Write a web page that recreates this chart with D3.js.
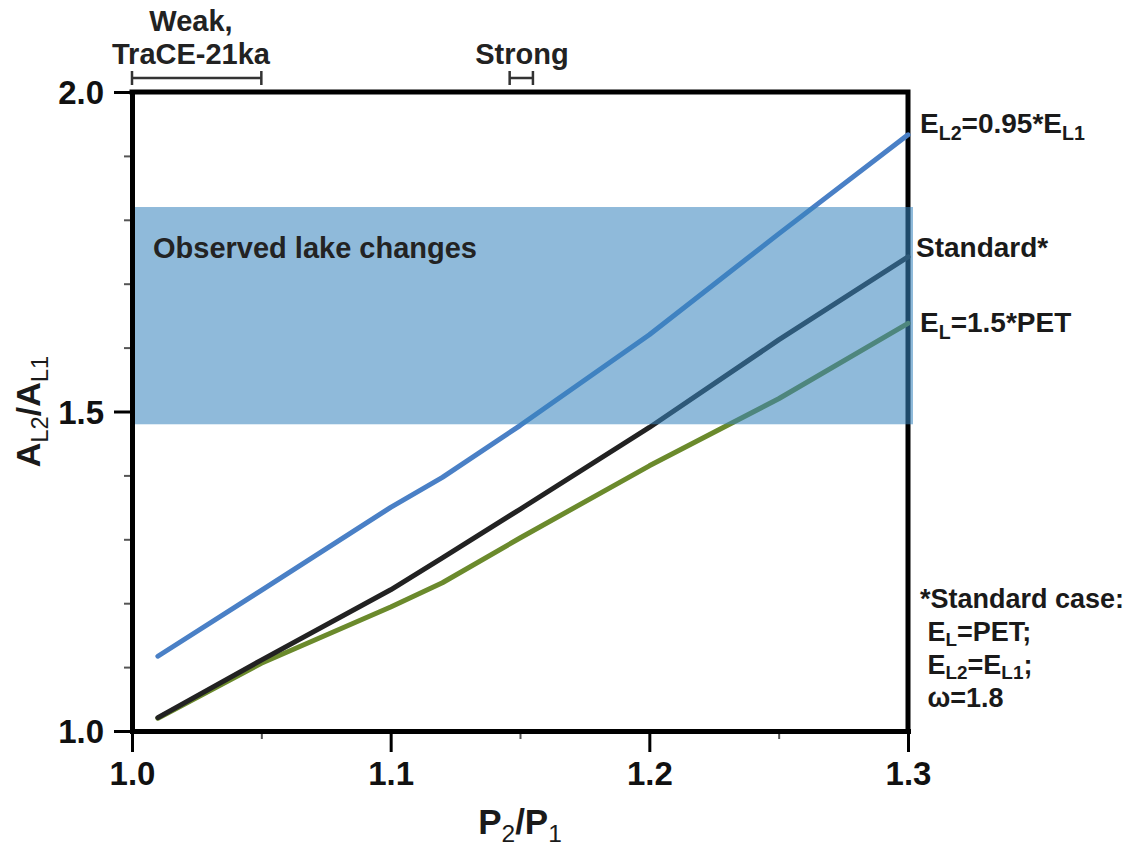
<!DOCTYPE html>
<html>
<head>
<meta charset="utf-8">
<script src="https://cdnjs.cloudflare.com/ajax/libs/d3/7.8.5/d3.min.js"></script>
<style>
  body { margin: 0; background: #fff; }
  text { font-family: "Liberation Sans", Arial, Helvetica, sans-serif; font-weight: bold; fill: #1a1a1a; }
</style>
</head>
<body>
<script>
// values
const p2p1 = [1.01, 1.05, 1.10, 1.12, 1.15, 1.20, 1.25, 1.30];
const lowEvap = [1.117, 1.22, 1.35, 1.397, 1.478, 1.62, 1.778, 1.933];   // EL2 = 0.95*EL1
const standard = [1.021, 1.111, 1.221, 1.271, 1.347, 1.475, 1.612, 1.742];
const highEvap = [1.02, 1.106, 1.194, 1.232, 1.302, 1.415, 1.52, 1.638]; // EL = 1.5*PET
const observedBand = [1.48, 1.82];
const weakRange = [1.0, 1.05];
const strongRange = [1.146, 1.155];
const xMajor = [1.0, 1.1, 1.2, 1.3];
const xMinor = [1.05, 1.15, 1.25];
const yMajor = [1.0, 1.5, 2.0];
const yMinor = [1.1, 1.2, 1.3, 1.4, 1.6, 1.7, 1.8, 1.9];

const W = 1143, H = 848;
const m = { left: 132, top: 92, right: 235, bottom: 117 };
const w = W - m.left - m.right, h = H - m.top - m.bottom;

const svg = d3.select("body").append("svg")
    .attr("width", W)
    .attr("height", H);
const g = svg.append("g").attr("transform", `translate(${m.left},${m.top})`);

const x = d3.scaleLinear().domain([1.0, 1.3]).range([0, w]);
const y = d3.scaleLinear().domain([1.0, 2.0]).range([h, 0]);

// top + right frame (sits under the band)
g.append("path")
    .attr("d", `M0,0H${w}V${h}`)
    .attr("fill", "none")
    .attr("stroke", "#000")
    .attr("stroke-width", 5)
    .attr("stroke-linecap", "square");

// curves
const series = [
    { vals: lowEvap, color: "#4a80c6" },
    { vals: highEvap, color: "#6b8a2c" },
    { vals: standard, color: "#222222" }
];
const line = d3.line()
    .x(function(d) { return x(d[0]); })
    .y(function(d) { return y(d[1]); });
g.selectAll(".curve")
    .data(series)
    .enter()
    .append("path")
        .attr("class", "curve")
        .attr("d", function(s) { return line(d3.zip(p2p1, s.vals)); })
        .attr("fill", "none")
        .attr("stroke", function(s) { return s.color; })
        .attr("stroke-width", 5)
        .attr("stroke-linecap", "round")
        .attr("stroke-linejoin", "round");

// observed band, translucent over the lines
g.append("rect")
    .attr("x", x(1.0))
    .attr("width", x(1.3) - x(1.0) + 5)
    .attr("y", y(observedBand[1]))
    .attr("height", y(observedBand[0]) - y(observedBand[1]))
    .attr("fill", "rgb(55,132,189)")
    .attr("fill-opacity", 0.56);

g.append("text")
    .attr("x", 21)
    .attr("y", 166)
    .attr("font-size", 29)
    .style("fill", "#232323")
    .text("Observed lake changes");

// axes
const xAx = g.append("g").attr("transform", `translate(0,${h})`)
    .call(d3.axisBottom(x).tickValues(xMinor).tickSize(8).tickSizeOuter(0));
xAx.select(".domain").remove();
xAx.selectAll(".tick line").attr("stroke", "#555").attr("stroke-width", 2);
xAx.selectAll("text").remove();

const xAxM = g.append("g").attr("transform", `translate(0,${h})`)
    .call(d3.axisBottom(x).tickValues(xMajor).tickSize(21).tickSizeOuter(0)
        .tickFormat(d3.format(".1f")).tickPadding(10));
xAxM.select(".domain").attr("stroke-width", 5).attr("stroke-linecap", "square");
xAxM.selectAll(".tick line").attr("stroke-width", 3);
xAxM.selectAll("text").attr("font-size", 33).attr("font-family", null).style("fill", "#111");

const yAx = g.append("g")
    .call(d3.axisLeft(y).tickValues(yMinor).tickSize(8).tickSizeOuter(0));
yAx.select(".domain").remove();
yAx.selectAll(".tick line").attr("stroke", "#555").attr("stroke-width", 2);
yAx.selectAll("text").remove();

const yAxM = g.append("g")
    .call(d3.axisLeft(y).tickValues(yMajor).tickSize(18).tickSizeOuter(0)
        .tickFormat(d3.format(".1f")).tickPadding(10));
yAxM.select(".domain").attr("stroke-width", 5).attr("stroke-linecap", "square");
yAxM.selectAll(".tick line").attr("stroke-width", 3);
yAxM.selectAll("text").attr("font-size", 33).attr("font-family", null).attr("dy", "0.36em").style("fill", "#111");

// text with subscripts: parts = [[str, isSub, thin], ...]
function richText(sel, parts, size, drop) {
    drop = drop || 0.24;
    let down = false;
    parts.forEach(function(p) {
        const t = sel.append("tspan").text(p[0]);
        if (p[1] && !down) { t.attr("font-size", size * 0.7).attr("dy", size * drop); down = true; }
        else if (!p[1] && down) { t.attr("font-size", size).attr("dy", -size * drop); down = false; }
        else t.attr("font-size", p[1] ? size * 0.7 : size);
        if (p[2]) t.style("font-weight", "normal");
    });
}

// axis titles
const xt = svg.append("text")
    .attr("x", x(1.15) + m.left)
    .attr("y", 834)
    .attr("text-anchor", "middle");
richText(xt, [["P"], ["2", true, 1], ["/P"], ["1", true, 1]], 35);

const yt = svg.append("text")
    .attr("transform", `translate(40,${y(1.5) + m.top}) rotate(-90)`)
    .attr("text-anchor", "middle");
richText(yt, [["A"], ["L2", true, 1], ["/A"], ["L1", true, 1]], 34);

// curve labels on the right
const lx = m.left + w + 12;
const labels = [
    { yy: 133, parts: [["E"], ["L2", true], ["=0.95*E"], ["L1", true]] },
    { yy: 257, parts: [["Standard*"]], dx: -4 },
    { yy: 332, parts: [["E"], ["L", true], ["=1.5*PET"]] }
];
labels.forEach(function(l) {
    const t = svg.append("text").attr("x", lx + (l.dx || 0)).attr("y", l.yy);
    richText(t, l.parts, 28);
});

const notes = [
    [["*Standard case:"]],
    [[" E"], ["L", true], ["=PET;"]],
    [[" E"], ["L2", true], ["=E"], ["L1", true], [";"]],
    [[" \u03c9=1.8"]]
];
notes.forEach(function(parts, i) {
    const t = svg.append("text")
        .attr("x", lx)
        .attr("y", 608 + i * 33)
        .attr("xml:space", "preserve")
        .style("white-space", "pre");
    richText(t, parts, 27, 0.17);
});

// forcing ranges above the plot
const ranges = [
    { r: weakRange, lines: ["Weak,", "TraCE-21ka"], cx: 191 },
    { r: strongRange, lines: ["Strong"], cx: 522 }
];
ranges.forEach(function(d) {
    const by = 78;
    const x0 = x(d.r[0]) + m.left, x1 = x(d.r[1]) + m.left;
    svg.append("path")
        .attr("d", `M${x0},${by - 7}V${by + 7}M${x0},${by}H${x1}M${x1},${by - 7}V${by + 7}`)
        .attr("fill", "none")
        .attr("stroke", "#333")
        .attr("stroke-width", 2.5);
    d.lines.forEach(function(s, i) {
        svg.append("text")
            .attr("x", d.cx)
            .attr("y", 64 - (d.lines.length - 1 - i) * 33)
            .attr("text-anchor", "middle")
            .attr("font-size", 29)
            .style("fill", "#222")
            .text(s);
    });
});
</script>
</body>
</html>
